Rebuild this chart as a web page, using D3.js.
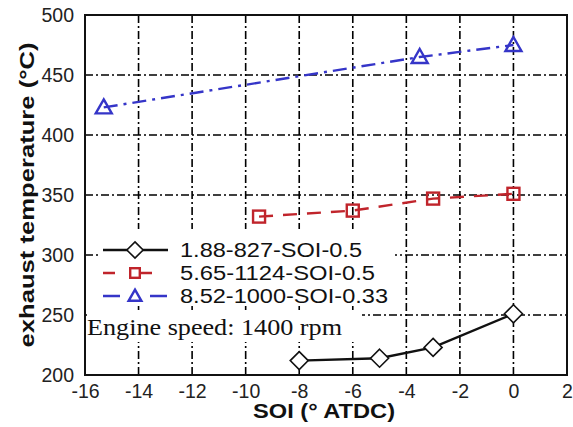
<!DOCTYPE html>
<html>
<head>
<meta charset="utf-8">
<script src="https://cdn.jsdelivr.net/npm/d3@7"></script>
<style>
  html, body { margin: 0; padding: 0; background: #fff; }
  svg { display: block; }
</style>
</head>
<body>
<svg id="chart" width="573" height="427"></svg>
<script>
// Exhaust temperature vs. start of injection
const xTicks = [-16, -14, -12, -10, -8, -6, -4, -2, 0, 2];
const yTicks = [200, 250, 300, 350, 400, 450, 500];

const soiBlack = [-8, -5, -3, 0];
const tempBlack = [212, 214, 223, 251];

const soiRed = [-9.5, -6, -3, 0];
const tempRed = [332, 337, 347, 351];

const soiBlue = [-15.3, -3.5, 0];
const tempBlue = [423, 465, 475];

const seriesNames = ["1.88-827-SOI-0.5", "5.65-1124-SOI-0.5", "8.52-1000-SOI-0.33"];

const svg = d3.select("#chart");
const m = { left: 85, right: 567, top: 15, bottom: 375 };
const sans = "Liberation Sans, Arial, sans-serif";

const x = d3.scaleLinear().domain([-16, 2]).range([m.left, m.right]);
const y = d3.scaleLinear().domain([200, 500]).range([m.bottom, m.top]);

const gridDash = "8,3,2,3";

// grid
const grid = svg.append("g");
grid.selectAll("line.v").data(xTicks.slice(1, -1)).join("line")
  .attr("x1", d => x(d)).attr("x2", d => x(d))
  .attr("y1", m.top).attr("y2", m.bottom)
  .attr("stroke", "#000").attr("stroke-width", 1.6).attr("stroke-dasharray", gridDash);
grid.selectAll("line.h").data(yTicks.slice(1, -1)).join("line")
  .attr("y1", d => y(d)).attr("y2", d => y(d))
  .attr("x1", m.left).attr("x2", m.right)
  .attr("stroke", "#000").attr("stroke-width", 1.6).attr("stroke-dasharray", gridDash);

// axes with tick labels (plain hyphen for negatives)
const xAxis = d3.axisBottom(x).tickValues(xTicks).tickSize(0).tickPadding(9)
  .tickFormat(d => String(d));
const yAxis = d3.axisLeft(y).tickValues(yTicks).tickSize(0).tickPadding(11)
  .tickFormat(d => String(d));

const gx = svg.append("g").attr("transform", `translate(0,${m.bottom})`).call(xAxis);
const gy = svg.append("g").attr("transform", `translate(${m.left},0)`).call(yAxis);
[gx, gy].forEach(g => {
  g.select(".domain").remove();
  g.selectAll("text").attr("font-family", sans)
    .attr("font-size", 19.5).attr("fill", "#222");
});

// white panels behind legend and note
svg.append("rect").attr("x", 101).attr("y", 229).attr("width", 294).attr("height", 77).attr("fill", "#fff");
svg.append("rect").attr("x", 87).attr("y", 310).attr("width", 275).attr("height", 32).attr("fill", "#fff");

// series
const styles = [
  { xs: soiBlack, ys: tempBlack, color: "#111", dash: null, marker: "diamond" },
  { xs: soiRed, ys: tempRed, color: "#c0242b", dash: "14,10", marker: "square" },
  { xs: soiBlue, ys: tempBlue, color: "#3535c8", dash: "14,6,3,6", marker: "triangle" }
];

const line = d3.line().x(d => x(d[0])).y(d => y(d[1]));

function drawMarker(g, type, cx, cy, color, k = 1) {
  if (type === "diamond") {
    const r = 9 * k;
    g.append("path").attr("d", `M${cx},${cy - r}L${cx + r},${cy}L${cx},${cy + r}L${cx - r},${cy}Z`)
      .attr("fill", "#fff").attr("stroke", color).attr("stroke-width", 1.6);
  } else if (type === "square") {
    const r = 6 * k;
    g.append("rect").attr("x", cx - r).attr("y", cy - r).attr("width", 2 * r).attr("height", 2 * r)
      .attr("fill", "none").attr("stroke", color).attr("stroke-width", 2.4);
  } else {
    g.append("path").attr("d", `M${cx},${cy - 8 * k}L${cx + 8 * k},${cy + 6 * k}L${cx - 8 * k},${cy + 6 * k}Z`)
      .attr("fill", "none").attr("stroke", color).attr("stroke-width", 2.4);
  }
}

styles.forEach(s => {
  const pts = s.xs.map((v, i) => [v, s.ys[i]]);
  svg.append("path").attr("d", line(pts)).attr("fill", "none")
    .attr("stroke", s.color).attr("stroke-width", 2.4)
    .attr("stroke-dasharray", s.dash);
  const g = svg.append("g");
  pts.forEach(p => drawMarker(g, s.marker, x(p[0]), y(p[1]), s.color));
});

// legend
const legY = [250, 273, 296];
const legWidths = [182, 195, 208];
const legDash = [null, "12,25", "17,30"];
styles.forEach((s, i) => {
  const ly = legY[i];
  svg.append("line").attr("x1", 103).attr("x2", 168).attr("y1", ly).attr("y2", ly)
    .attr("stroke", s.color).attr("stroke-width", 2.4).attr("stroke-dasharray", legDash[i]);
  drawMarker(svg.append("g"), s.marker, 135, ly, s.color, i === 0 ? 0.9 : 0.8);
  svg.append("text").attr("x", 180).attr("y", ly + 7)
    .attr("font-family", sans).attr("font-size", 20)
    .attr("textLength", legWidths[i]).attr("lengthAdjust", "spacingAndGlyphs")
    .attr("fill", "#111").text(seriesNames[i]);
});

svg.append("text").attr("x", 87).attr("y", 335)
  .attr("font-family", "Liberation Serif, Times New Roman, serif").attr("font-size", 23)
  .attr("textLength", 255).attr("lengthAdjust", "spacingAndGlyphs")
  .attr("fill", "#111").text("Engine speed: 1400 rpm");

// frame
svg.append("rect").attr("x", m.left).attr("y", m.top)
  .attr("width", m.right - m.left).attr("height", m.bottom - m.top)
  .attr("fill", "none").attr("stroke", "#111").attr("stroke-width", 2);

// axis titles
svg.append("text").attr("x", 324).attr("y", 418)
  .attr("text-anchor", "middle").attr("font-family", sans)
  .attr("font-size", 19.5).attr("font-weight", "bold").attr("fill", "#111")
  .attr("textLength", 142).attr("lengthAdjust", "spacingAndGlyphs")
  .text("SOI (° ATDC)");
svg.append("text").attr("transform", `translate(34,${(m.top + m.bottom) / 2}) rotate(-90)`)
  .attr("text-anchor", "middle").attr("font-family", sans)
  .attr("font-size", 19.5).attr("font-weight", "bold").attr("fill", "#111")
  .attr("textLength", 305).attr("lengthAdjust", "spacingAndGlyphs")
  .text("exhaust temperature (°C)");
</script>
</body>
</html>
